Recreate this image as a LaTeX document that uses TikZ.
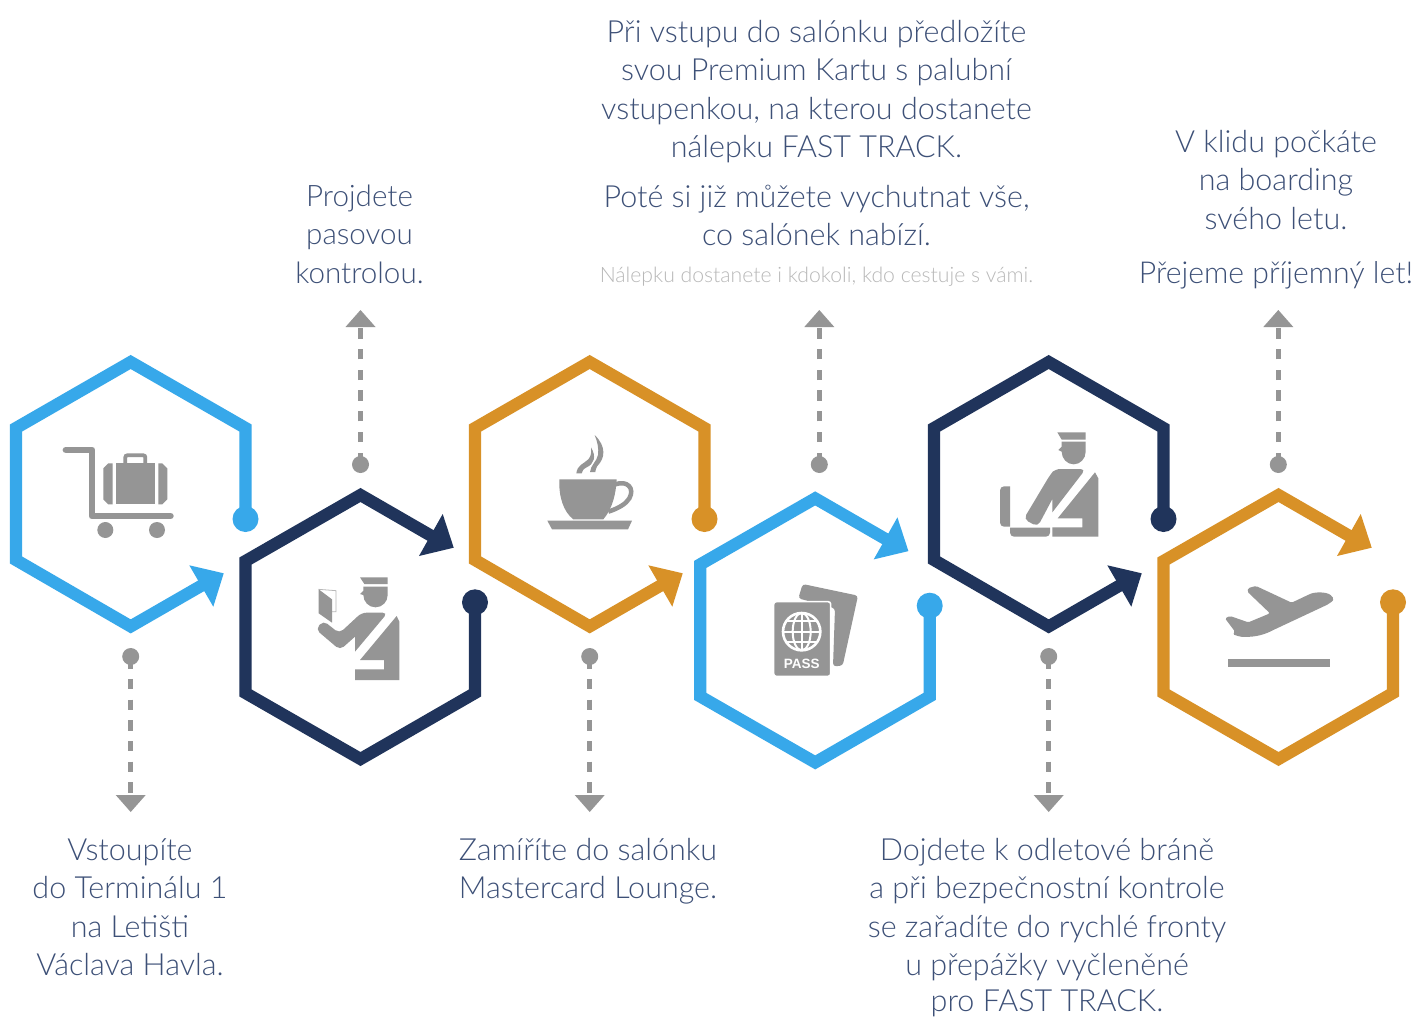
\documentclass[tikz,border=0pt]{standalone}
\usepackage{fontspec}
\setmainfont{Lato Light}
\newfontfamily\passfont{Liberation Sans}[BoldFont={Liberation Sans Bold}]
\definecolor{cblue}{HTML}{37A8EA}
\definecolor{cnavy}{HTML}{20345B}
\definecolor{corange}{HTML}{D89127}
\definecolor{cgrey}{HTML}{959595}
\definecolor{ctext}{HTML}{3D5077}
\definecolor{clight}{HTML}{B8B8B8}
\tikzset{
  hexline/.style={line width=12.2pt,miter limit=10,line join=miter},
  enddot/.style={circle,fill=#1,inner sep=0pt,minimum size=26pt},
  stepdot/.style={circle,fill=cgrey,inner sep=0pt,minimum size=17pt},
  dashline/.style={cgrey,line width=5pt,dash pattern=on 10.3pt off 10.4pt},
  icon/.style={fill=cgrey,draw=none},
  caption/.style={inner sep=0pt,anchor=north,align=center,text=ctext,font=\fontsize{30.5}{38.5}\selectfont},
  small/.style={inner sep=0pt,anchor=base,text=clight,font=\fontsize{21.2}{25}\selectfont},
  zoomed/.style={shift={#1},x=0.33333pt,y=-0.33333pt},
}
% #1 name prefix, #2 dx, #3 dy, #4 colour : hexagon with dot on right, arrow bottom right
\newcommand{\hexdown}[4]{%
  \begin{scope}[shift={(#2,#3)}]
    \node[enddot=#4] (#1dot) at (245.5,519) {};
    \coordinate (#1tip) at (223.7,573.3);
    \coordinate (#1a) at (189.3,565.3);
    \coordinate (#1b) at (213.3,606.7);
    \draw[#4,hexline] (#1dot.center) -- (245.5,428) -- (130.7,362) -- (16,428) -- (16,560) -- (130.7,626.4) -- (205,583.6);
    \fill[#4] (#1a) -- (#1tip) -- (#1b) -- cycle;
  \end{scope}}
% hexagon with dot on right lower, arrow at top right
\newcommand{\hexup}[4]{%
  \begin{scope}[shift={(#2,#3)}]
    \node[enddot=#4] (#1dot) at (475,602.3) {};
    \coordinate (#1tip) at (453.7,547.7);
    \coordinate (#1a) at (442.7,514);
    \coordinate (#1b) at (419,556);
    \draw[#4,hexline] (#1dot.center) -- (475,693) -- (360.5,759) -- (245.5,693) -- (245.5,561) -- (360.5,495) -- (435,538);
    \fill[#4] (#1a) -- (#1tip) -- (#1b) -- cycle;
  \end{scope}}
% dropping leader (below)
\newcommand{\leaderdown}[2]{%
  \node[stepdot] (#1d) at (#2,656.5) {};
  \coordinate (#1e) at (#2,795);
  \draw[dashline] ([yshift=7pt]#1d.south) -- (#1e);
  \fill[cgrey] (#2-15,795) -- (#2+15,795) -- (#2,812) -- cycle;}
\newcommand{\leaderup}[2]{%
  \node[stepdot] (#1d) at (#2,464.5) {};
  \coordinate (#1e) at (#2,327);
  \draw[dashline] ([yshift=-7pt]#1d.north) -- (#1e);
  \fill[cgrey] (#2-15,327) -- (#2+15,327) -- (#2,310) -- cycle;}
\begin{document}
\begin{tikzpicture}[x=1pt,y=-1pt]
\useasboundingbox (0,0) rectangle (1413,1017);
\fill[white] (0,0) rectangle (1413,1017);

\hexdown{h1}{0}{0}{cblue}
\hexup{h2}{0}{0}{cnavy}
\hexdown{h3}{459}{0}{corange}
\hexup{h4}{454.7}{3.4}{cblue}
\hexdown{h5}{918}{0}{cnavy}
\hexup{h6}{918}{0}{corange}

\leaderdown{l1}{130.7}
\leaderup{l2}{360.5}
\leaderdown{l3}{589.7}
\leaderup{l4}{819.3}
\leaderdown{l5}{1048.7}
\leaderup{l6}{1278.3}

% Cart icon
\begin{scope}[zoomed={(60,430)}]
  \draw[cgrey,line width=6.8pt,line join=round,line cap=round] (18,60) -- (96,60) -- (96,258) -- (331,258);
  \fill[cgrey] (136,300) circle[radius=24];
  \fill[cgrey] (291,300) circle[radius=24];
  \fill[icon] (168,100) rectangle (285,223);
  \fill[icon] (158,100) -- (145,100) -- (130,115) -- (130,208) -- (145,223) -- (158,223) -- cycle;
  \fill[icon] (295,100) -- (307,100) -- (322,115) -- (322,208) -- (307,223) -- (295,223) -- cycle;
  \draw[cgrey,line width=3.8pt,rounded corners=2pt] (196,100) -- (196,76) -- (256,76) -- (256,100);
\end{scope}

% Officer with passport
\begin{scope}[zoomed={(310,570)}]
  \fill[icon] (150,22) -- (233,22) -- (233,42) -- (163,42) -- cycle;
  \fill[icon] (160,50) -- (233,50) -- (233,75) arc[start angle=0,end angle=-180,x radius=36.5,y radius=-37] -- (150,72) -- (160,62) -- cycle;
  \fill[icon,rounded corners=5pt] (155,128) -- (233,128) [sharp corners] -- (135,245) -- (135,200) [rounded corners=5pt] -- (90,240) -- (17,178) -- (40,152) -- (88,190) -- cycle;
  \fill[icon] (260,138) -- (268,155) -- (268,330) -- (135,330) -- (135,298) -- (222,298) -- (222,270) -- (150,270) -- cycle;
  \draw[clight,line width=0.8pt] (26,58) -- (78,62) -- (78,125) -- (66,125);
  \fill[icon] (26,58) -- (66,88) -- (66,158) -- (26,130) -- cycle;
\end{scope}

% Coffee cup
\begin{scope}[zoomed={(540,430)}]
  \fill[icon] (58,148) -- (230,148) .. controls (228,190) and (218,235) .. (190,268) -- (100,268) .. controls (70,245) and (56,200) .. (58,148) -- cycle;
  \draw[cgrey,line width=4.5pt] (226,163) .. controls (262,150) and (285,175) .. (268,205) .. controls (258,222) and (235,235) .. (205,245);
  \fill[icon] (22,272) -- (276,272) -- (264,298) -- (36,298) -- cycle;
  \fill[icon] (164,15) .. controls (200,50) and (195,85) .. (172,108) .. controls (168,113) and (167,120) .. (166,126) -- (150,126) .. controls (152,105) and (170,95) .. (174,75) .. controls (177,55) and (172,35) .. (164,15) -- cycle;
  \fill[icon] (153,52) .. controls (170,80) and (162,102) .. (140,112) .. controls (130,117) and (127,122) .. (125,130) -- (109,130) .. controls (112,105) and (130,102) .. (145,88) .. controls (153,78) and (155,68) .. (153,52) -- cycle;
\end{scope}

% Passports
\begin{scope}[zoomed={(765,575)}]
  \fill[icon,rounded corners=3pt] (113,27) -- (279,62) -- (233,272) -- (204,274) -- (210,100) -- (100,70) -- cycle;
  \fill[icon,draw=white,line width=1.6pt,rounded corners=2.5pt] (26,80) rectangle (197,304);
  \begin{scope}
    \clip (110,170) circle[radius=56];
    \draw[white,line width=2pt] (110,170) ellipse[x radius=27,y radius=56];
    \draw[white,line width=2pt] (110,110) -- (110,230);
    \draw[white,line width=2pt] (50,170) -- (170,170);
    \draw[white,line width=2pt] (50,138) -- (170,138);
    \draw[white,line width=2pt] (50,202) -- (170,202);
  \end{scope}
  \draw[white,line width=2.6pt] (110,170) circle[radius=56];
  \node[inner sep=0pt,text=white,font=\passfont\bfseries\fontsize{13.5}{14}\selectfont] (passlabel) at (110,267) {PASS};
\end{scope}

% Officer at desk
\begin{scope}[zoomed={(995,425)}]
  \fill[icon] (187,22) -- (272,22) -- (272,44) -- (200,44) -- cycle;
  \fill[icon] (200,50) -- (272,50) -- (272,80) arc[start angle=0,end angle=-180,x radius=36,y radius=-38] -- (190,75) -- (200,65) -- cycle;
  \fill[icon,rounded corners=5pt] (180,132) -- (272,132) [sharp corners] -- (172,262) -- (172,222) [rounded corners=5pt] -- (128,305) -- (86,282) -- (165,150) -- cycle;
  \fill[icon] (300,142) -- (310,160) -- (310,335) -- (172,335) -- (172,307) -- (262,307) -- (262,280) -- (188,280) -- cycle;
  \fill[icon] (45,184) [rounded corners=4pt] -- (15,184) -- (15,305) [sharp corners] -- (45,305) -- cycle;
  \fill[icon] (45,308) [rounded corners=4pt] -- (45,335) -- (165,335) [sharp corners] -- (165,308) -- cycle;
\end{scope}

% Airplane
\begin{scope}[zoomed={(1220,580)}]
  \fill[icon,rounded corners=1.5pt] (338,55) .. controls (330,35) and (290,35) .. (270,42) -- (215,68) -- (108,18) -- (85,24) -- (82,35) -- (150,100) -- (85,127) -- (30,108) -- (15,115) -- (45,155) -- (38,163) -- (60,170) .. controls (95,172) and (125,168) .. (160,150) -- (320,75) .. controls (332,68) and (340,62) .. (338,55) -- cycle;
  \fill[icon] (23,238) rectangle (330,262);
\end{scope}

% Captions
\node[caption] (t1) at (130,833) {\strut Vstoupíte\\do Terminálu 1\\na Letišti\\Václava Havla.};
\node[caption,font=\fontsize{29.6}{38.5}\selectfont] (t2) at (359.5,179) {\strut Projdete\\pasovou\\kontrolou.};
\node[caption] (t3a) at (816.5,15) {\strut Při vstupu do salónku předložíte\\svou Premium Kartu s palubní\\vstupenkou, na kterou dostanete\\nálepku FAST TRACK.};
\node[caption] (t3b) at (816.5,180) {\strut Poté si již můžete vychutnat vše,\\co salónek nabízí.};
\node[small] (t3c) at (816.5,282) {Nálepku dostanete i kdokoli, kdo cestuje s vámi.};
\node[caption] (t4) at (588,833) {\strut Zamíříte do salónku\\Mastercard Lounge.};
\node[caption] (t5) at (1047,833) {\strut Dojdete k odletové bráně\\a při bezpečnostní kontrole\\se zařadíte do rychlé fronty\\u přepážky vyčleněné\\[-3pt]pro FAST TRACK.};
\node[caption] (t6a) at (1276,125) {\strut V klidu počkáte\\na boarding\\svého letu.};
\node[caption,font=\fontsize{30.2}{38.5}\selectfont] (t6b) at (1276,256) {\strut Přejeme příjemný let!};
\end{tikzpicture}
\end{document}
